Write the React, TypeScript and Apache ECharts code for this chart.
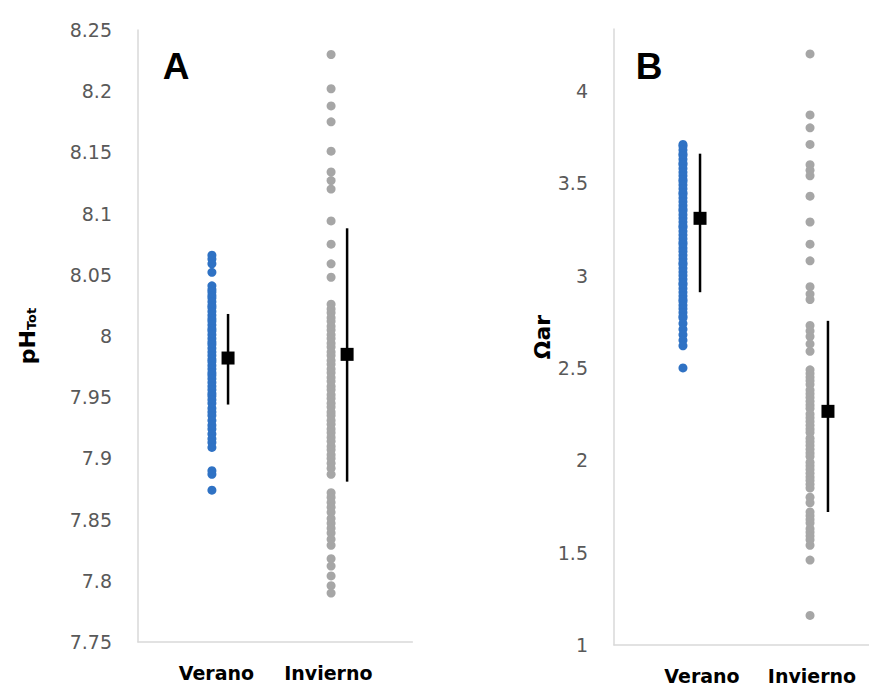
import React, { useEffect, useRef } from "react";
import * as echarts from "echarts";

// ---------- data ----------
const categories = ["Verano", "Invierno"];

const phVerano = [
  8.066, 8.063, 8.059, 8.052, 8.041, 8.038, 8.036, 8.033, 8.031, 8.028, 8.025, 8.023, 8.02, 8.017,
  8.014, 8.012, 8.009, 8.006, 8.004, 8.001, 7.998, 7.995, 7.993, 7.99, 7.987, 7.984, 7.981, 7.979,
  7.976, 7.973, 7.97, 7.968, 7.965, 7.962, 7.959, 7.956, 7.953, 7.951, 7.948, 7.945, 7.941, 7.938,
  7.935, 7.931, 7.927, 7.924, 7.92, 7.916, 7.913, 7.909, 7.89, 7.887, 7.874,
];

const phInvierno = [
  8.23, 8.202, 8.188, 8.175, 8.151, 8.134, 8.127, 8.12, 8.094, 8.075, 8.059, 8.048, 8.026, 8.022,
  8.019, 8.015, 8.012, 8.008, 8.005, 8.001, 7.998, 7.994, 7.991, 7.987, 7.984, 7.98, 7.977, 7.973,
  7.97, 7.966, 7.963, 7.959, 7.956, 7.952, 7.949, 7.945, 7.942, 7.938, 7.935, 7.931, 7.928, 7.924,
  7.921, 7.917, 7.914, 7.91, 7.907, 7.903, 7.9, 7.896, 7.892, 7.887, 7.872, 7.868, 7.864, 7.86,
  7.856, 7.851, 7.847, 7.843, 7.839, 7.834, 7.829, 7.818, 7.812, 7.804, 7.796, 7.79,
];

const omegaVerano = [
  3.71, 3.7, 3.68, 3.66, 3.65, 3.63, 3.61, 3.6, 3.58, 3.56, 3.54, 3.52, 3.51, 3.49, 3.47, 3.45,
  3.44, 3.42, 3.4, 3.38, 3.36, 3.35, 3.33, 3.31, 3.29, 3.27, 3.26, 3.24, 3.22, 3.2, 3.18, 3.17,
  3.15, 3.13, 3.11, 3.09, 3.07, 3.06, 3.04, 3.02, 3.0, 2.98, 2.96, 2.95, 2.93, 2.91, 2.89, 2.87,
  2.86, 2.84, 2.82, 2.8, 2.78, 2.77, 2.74, 2.71, 2.68, 2.65, 2.62, 2.5,
];

const omegaInvierno = [
  4.2, 3.87, 3.8, 3.71, 3.6, 3.57, 3.54, 3.43, 3.29, 3.17, 3.08, 2.94, 2.9, 2.87, 2.73, 2.7, 2.67,
  2.63, 2.59, 2.49, 2.47, 2.45, 2.43, 2.41, 2.38, 2.36, 2.34, 2.32, 2.3, 2.28, 2.25, 2.23, 2.21,
  2.19, 2.17, 2.15, 2.12, 2.1, 2.08, 2.06, 2.04, 2.02, 1.99, 1.97, 1.95, 1.93, 1.91, 1.89, 1.87,
  1.85, 1.8, 1.77, 1.72, 1.7, 1.68, 1.66, 1.63, 1.61, 1.59, 1.57, 1.54, 1.46, 1.16,
];

const phMean = [7.982, 7.985];
const phLow = [7.944, 7.881];
const phHigh = [8.018, 8.088];

const omegaMean = [3.31, 2.265];
const omegaLow = [2.91, 1.72];
const omegaHigh = [3.66, 2.755];

// ---------- layout / style ----------
const BLUE = "#2f72c4";
const GRAY = "#a6a6a6";
const AXIS_GRAY = "#d9d9d9";
const LABEL_GRAY = "#595959";
const FONT = "DejaVu Sans";

// horizontal offsets (in category units) of dots and error bars from category centre
const leftDotOff = [-0.04, 0.024];
const leftErrOff = [0.104, 0.167];
const rightDotOff = [-0.173, -0.018];
const rightErrOff = [-0.018, 0.145];

function dots(values: number[], x: number) {
  return values.map((v) => [x, v]);
}

function errData(mean: number[], low: number[], high: number[], off: number[]) {
  return mean.map((m, i) => [i + 1 + off[i], m, low[i], high[i]]);
}

function xAxisCfg(gridIndex: number, min: number, max: number) {
  return {
    gridIndex,
    type: "value",
    min,
    max,
    axisLine: { show: true, onZero: false, lineStyle: { color: AXIS_GRAY, width: 1.5 } },
    axisTick: { show: false },
    splitLine: { show: false },
    axisLabel: {
      customValues: [1, 2],
      formatter: (v: number) => categories[Math.round(v) - 1] ?? "",
      color: "#000",
      fontWeight: "bold",
      fontSize: 19,
      fontFamily: FONT,
      margin: 21,
    },
  };
}

const renderErr = (params: any, api: any) => {
  const x = api.value(0);
  const lo = api.value(2);
  const hi = api.value(3);
  const p1 = api.coord([x, hi]);
  const p2 = api.coord([x, lo]);
  return {
    type: "line",
    shape: { x1: p1[0], y1: p1[1], x2: p2[0], y2: p2[1] },
    style: { stroke: "#000", lineWidth: 2.5 },
  };
};

const dotStyle = (color: string) => ({ color, opacity: 1 });

export default function App() {
  const ref = useRef<HTMLDivElement>(null);

  useEffect(() => {
    if (!ref.current) return;
    const chart = echarts.init(ref.current, null, { renderer: "svg" });
    const option: any = {
      animation: false,
      backgroundColor: "#fff",
      textStyle: { fontFamily: FONT },
      grid: [
        { left: 138, top: 30, width: 274.4, height: 612 },
        { left: 614, top: 29, width: 255, height: 619 },
      ],
      xAxis: [xAxisCfg(0, 0.3, 2.75), xAxisCfg(1, 0.2, 2.518)],
      yAxis: [
        {
          gridIndex: 0,
          type: "value",
          min: 7.75,
          max: 8.25,
          interval: 0.05,
          axisLine: { show: true, lineStyle: { color: AXIS_GRAY, width: 1.5 } },
          axisTick: { show: false },
          splitLine: { show: false },
          axisLabel: {
            color: LABEL_GRAY,
            fontSize: 19,
            fontFamily: FONT,
            margin: 26,
            formatter: (v: number) => String(+v.toFixed(2)),
          },
          name: "{a|pH}{b|Tot}",
          nameLocation: "middle",
          nameRotate: 90,
          nameGap: 100,
          nameTextStyle: {
            rich: {
              a: { fontSize: 22, fontWeight: "bold", color: "#000", fontFamily: FONT },
              b: {
                fontSize: 13,
                fontWeight: "bold",
                color: "#000",
                fontFamily: FONT,
                verticalAlign: "bottom",
              },
            },
          },
        },
        {
          gridIndex: 1,
          type: "value",
          min: 1,
          max: 4.335,
          interval: 0.5,
          axisLine: { show: true, lineStyle: { color: AXIS_GRAY, width: 1.5 } },
          axisTick: { show: false },
          splitLine: { show: false },
          axisLabel: {
            color: LABEL_GRAY,
            fontSize: 19,
            fontFamily: FONT,
            margin: 26,
            formatter: (v: number) =>
              Math.abs(v * 2 - Math.round(v * 2)) < 1e-6 ? String(+v.toFixed(2)) : "",
          },
          name: "Ωar",
          nameLocation: "middle",
          nameRotate: 90,
          nameGap: 54,
          nameTextStyle: { fontSize: 22, fontWeight: "bold", color: "#000", fontFamily: FONT },
        },
      ],
      graphic: [
        {
          type: "text",
          x: 176,
          y: 66,
          style: {
            text: "A",
            font: "bold 37px 'Liberation Sans'",
            fill: "#000",
            textAlign: "center",
            textVerticalAlign: "middle",
          },
        },
        {
          type: "text",
          x: 649,
          y: 66,
          style: {
            text: "B",
            font: "bold 37px 'Liberation Sans'",
            fill: "#000",
            textAlign: "center",
            textVerticalAlign: "middle",
          },
        },
      ],
      series: [
        {
          type: "scatter",
          xAxisIndex: 0,
          yAxisIndex: 0,
          symbolSize: 9,
          itemStyle: dotStyle(BLUE),
          data: dots(phVerano, 1 + leftDotOff[0]),
        },
        {
          type: "scatter",
          xAxisIndex: 0,
          yAxisIndex: 0,
          symbolSize: 9,
          itemStyle: dotStyle(GRAY),
          data: dots(phInvierno, 2 + leftDotOff[1]),
        },
        {
          type: "scatter",
          xAxisIndex: 1,
          yAxisIndex: 1,
          symbolSize: 9,
          itemStyle: dotStyle(BLUE),
          data: dots(omegaVerano, 1 + rightDotOff[0]),
        },
        {
          type: "scatter",
          xAxisIndex: 1,
          yAxisIndex: 1,
          symbolSize: 9,
          itemStyle: dotStyle(GRAY),
          data: dots(omegaInvierno, 2 + rightDotOff[1]),
        },
        {
          type: "custom",
          xAxisIndex: 0,
          yAxisIndex: 0,
          renderItem: renderErr,
          encode: { x: 0, y: 1 },
          data: errData(phMean, phLow, phHigh, leftErrOff),
          z: 3,
        },
        {
          type: "custom",
          xAxisIndex: 1,
          yAxisIndex: 1,
          renderItem: renderErr,
          encode: { x: 0, y: 1 },
          data: errData(omegaMean, omegaLow, omegaHigh, rightErrOff),
          z: 3,
        },
        {
          type: "scatter",
          xAxisIndex: 0,
          yAxisIndex: 0,
          symbol: "rect",
          symbolSize: 13,
          itemStyle: { color: "#000", opacity: 1 },
          z: 4,
          data: phMean.map((m, i) => [i + 1 + leftErrOff[i], m]),
        },
        {
          type: "scatter",
          xAxisIndex: 1,
          yAxisIndex: 1,
          symbol: "rect",
          symbolSize: 13,
          itemStyle: { color: "#000", opacity: 1 },
          z: 4,
          data: omegaMean.map((m, i) => [i + 1 + rightErrOff[i], m]),
        },
      ],
    };
    chart.setOption(option);
    return () => chart.dispose();
  }, []);

  return (
    <div
      ref={ref}
      style={{ position: "fixed", left: 0, top: 0, width: 869, height: 685 }}
    />
  );
}
